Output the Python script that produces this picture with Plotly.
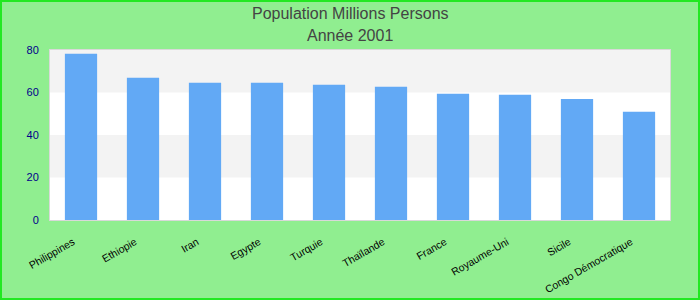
import plotly.graph_objects as go

categories = ["Philippines", "Ethiopie", "Iran", "Egypte", "Turquie", "Thaïlande",
              "France", "Royaume-Uni", "Sicile", "Congo Démocratique"]
values = [78.2, 66.9, 64.6, 64.6, 63.6, 62.7, 59.4, 58.9, 57.0, 50.9]
y_ticks = [0, 20, 40, 60, 80]
bands = [(20, 40), (60, 80)]
title_lines = ["Population Millions Persons", "Année 2001"]

fig = go.Figure(go.Bar(x=categories, y=values, marker_color="#62a9f5",
                       marker_line_width=0, width=0.52))

L, R, T, B = 50, 30, 50, 80
W, H = 700, 300
pw, ph = W - L - R, H - T - B

shapes = []
for lo, hi in bands:
    shapes.append(dict(type="rect", xref="paper", yref="y", x0=0, x1=1, y0=lo, y1=hi,
                       fillcolor="#f3f3f3", line_width=0, layer="below"))
shapes.append(dict(type="rect", xref="paper", yref="paper",
                   x0=-(L - 1) / pw, x1=1 + (R - 1) / pw,
                   y0=-(B - 1) / ph, y1=1 + (T - 1) / ph,
                   line=dict(color="#22e822", width=2), fillcolor="rgba(0,0,0,0)"))

annotations = []
for txt, ypix in zip(title_lines, [13, 35]):
    annotations.append(dict(text=txt, xref="paper", yref="paper",
                            x=(W / 2 - L) / pw, y=(H - B - ypix) / ph,
                            xanchor="center", yanchor="middle", showarrow=False,
                            font=dict(size=16, color="#444444")))

fig.update_layout(
    width=W, height=H,
    margin=dict(l=L, r=R, t=T, b=B, autoexpand=False),
    paper_bgcolor="#90ee90", plot_bgcolor="white",
    font=dict(family="Liberation Sans, Arial, sans-serif"),
    shapes=shapes,
    annotations=annotations,
    showlegend=False,
    bargap=0.48,
)
fig.update_xaxes(tickangle=-30, tickfont=dict(size=10.5, color="black"),
                 showline=True, linecolor="#d9d9d9", linewidth=1, mirror=True,
                 showgrid=False, ticks="", ticklabelstandoff=11, ticklabelshift=-8,
                 automargin=False)
fig.update_yaxes(range=[0, 80], tickvals=y_ticks, tickfont=dict(size=11, color="#00008b"),
                 showline=True, linecolor="#d9d9d9", linewidth=1, mirror=True,
                 showgrid=False, zeroline=False, ticks="", ticklabelstandoff=8,
                 automargin=False)

fig.write_html("out.html")
